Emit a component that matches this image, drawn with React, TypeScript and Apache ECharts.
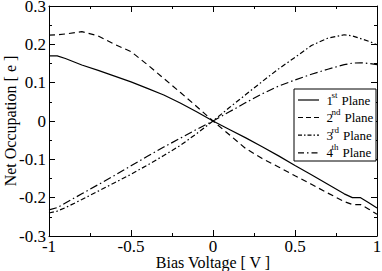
import React, { useEffect, useRef } from "react";
import * as echarts from "echarts";

const voltage = [-1, -0.95, -0.9, -0.8, -0.7, -0.6, -0.5, -0.4, -0.3, -0.2, -0.1, 0, 0.1, 0.2, 0.3, 0.4, 0.5, 0.6, 0.7, 0.8, 0.85, 0.9, 0.95, 1];
const plane1 = [0.17, 0.17, 0.163, 0.146, 0.132, 0.117, 0.102, 0.085, 0.068, 0.047, 0.024, 0, -0.022, -0.044, -0.067, -0.091, -0.116, -0.14, -0.165, -0.19, -0.2, -0.2, -0.213, -0.227];
const plane2 = [0.224, 0.225, 0.227, 0.233, 0.222, 0.2, 0.181, 0.147, 0.111, 0.075, 0.038, 0, -0.036, -0.072, -0.098, -0.12, -0.143, -0.165, -0.188, -0.21, -0.218, -0.218, -0.23, -0.243];
const plane3 = [-0.24, -0.235, -0.226, -0.205, -0.183, -0.161, -0.139, -0.115, -0.09, -0.064, -0.033, 0, 0.035, 0.069, 0.103, 0.136, 0.166, 0.197, 0.216, 0.225, 0.222, 0.215, 0.208, 0.199];
const plane4 = [-0.232, -0.226, -0.214, -0.19, -0.166, -0.142, -0.117, -0.092, -0.068, -0.045, -0.022, 0, 0.024, 0.048, 0.071, 0.091, 0.107, 0.122, 0.135, 0.147, 0.151, 0.152, 0.15, 0.147];

const seriesNames = ["1st Plane", "2nd Plane", "3rd Plane", "4th Plane"];
const ordinals = ["1", "2", "3", "4"];
const suffixes = ["st", "nd", "rd", "th"];
const legendWord = "Plane";
const xTitle = "Bias Voltage [ V ]";
const yTitle = "Net Occupation [ e ]";

const FONT = "Liberation Serif";

export default function App() {
  const ref = useRef<HTMLDivElement>(null);
  useEffect(() => {
    if (!ref.current) return;
    const chart = echarts.init(ref.current, null, { renderer: "svg" });
    const values = [plane1, plane2, plane3, plane4];
    const dashes: any[] = ["solid", [6, 4], [5, 2.5, 1.5, 2.5], [8, 3, 1.5, 3]];
    const legendDash: any[] = [null, [5, 3], [4, 2, 1.5, 2], [6, 3, 1.5, 3]];
    const supW = [6, 9, 7.5, 7];
    const axisCommon = {
      type: "value" as const,
      axisLine: { show: true, onZero: false, lineStyle: { color: "#000", width: 1 } },
      axisTick: { show: true, inside: true, length: 6, lineStyle: { color: "#000" } },
      minorTick: { show: true, splitNumber: 2, length: 3, lineStyle: { color: "#000" } },
      splitLine: { show: false },
      minorSplitLine: { show: false },
    };
    const tickStyle = { color: "#000", fontFamily: FONT, fontSize: 17 };
    const titleStyle = { color: "#000", fontFamily: FONT, fontSize: 16 };

    const lx = 294, ly = 89, lw = 82, lh = 72;
    const rowY = [100, 117.5, 135.2, 152.8];
    const legendEls: any[] = [
      { type: "rect", shape: { x: lx, y: ly, width: lw, height: lh }, style: { fill: "#fff", stroke: "#000", lineWidth: 1 }, z: 10 },
    ];
    rowY.forEach((y, i) => {
      legendEls.push({
        type: "line",
        shape: { x1: 298, y1: y, x2: 319, y2: y },
        style: { stroke: "#000", lineWidth: 1.2, lineDash: legendDash[i] || undefined },
        z: 11,
      });
      legendEls.push({
        type: "text",
        x: 326.5,
        y: y,
        style: { text: ordinals[i], fontFamily: FONT, fontSize: 13, fill: "#000", align: "left", verticalAlign: "middle" },
        z: 11,
      });
      legendEls.push({
        type: "text",
        x: 331.5,
        y: y - 5.5,
        style: { text: suffixes[i], fontFamily: FONT, fontSize: 9, fill: "#000", align: "left", verticalAlign: "middle" },
        z: 11,
      });
      legendEls.push({
        type: "text",
        x: 331.5 + supW[i] + 4,
        y: y,
        style: { text: legendWord, fontFamily: FONT, fontSize: 13, fill: "#000", align: "left", verticalAlign: "middle" },
        z: 11,
      });
    });

    chart.setOption({
      animation: false,
      backgroundColor: "#fff",
      grid: { left: 49, right: 5, top: 6, bottom: 35, containLabel: false, outerBoundsMode: "none" },
      xAxis: [
        {
          ...axisCommon,
          position: "bottom",
          min: -1,
          max: 1,
          interval: 0.5,
          axisLabel: { ...tickStyle, margin: 2 },
          name: xTitle,
          nameLocation: "middle",
          nameGap: 18,
          nameMoveOverlap: false,
          nameTextStyle: { ...titleStyle },
        },
        {
          ...axisCommon,
          position: "top",
          min: -1,
          max: 1,
          interval: 0.5,
          axisLabel: { show: false },
        },
      ],
      yAxis: [
        {
          ...axisCommon,
          position: "left",
          min: -0.3,
          max: 0.3,
          interval: 0.1,
          axisLabel: { ...tickStyle, margin: 3 },
          name: yTitle,
          nameLocation: "middle",
          nameGap: 31,
          nameMoveOverlap: false,
          nameTextStyle: { ...titleStyle },
        },
        {
          ...axisCommon,
          position: "right",
          min: -0.3,
          max: 0.3,
          interval: 0.1,
          axisLabel: { show: false },
        },
      ],
      graphic: legendEls,
      series: values.map((vals, i) => ({
        name: seriesNames[i],
        type: "line",
        xAxisIndex: 0,
        yAxisIndex: 0,
        symbol: "none",
        showSymbol: false,
        smooth: false,
        data: voltage.map((v, j) => [v, vals[j]]),
        lineStyle: { color: "#000", width: 1.2, type: dashes[i] },
        itemStyle: { color: "#000" },
      })),
    });
    return () => chart.dispose();
  }, []);
  return <div ref={ref} style={{ width: 382, height: 271, position: "absolute", left: 0, top: 0 }} />;
}
